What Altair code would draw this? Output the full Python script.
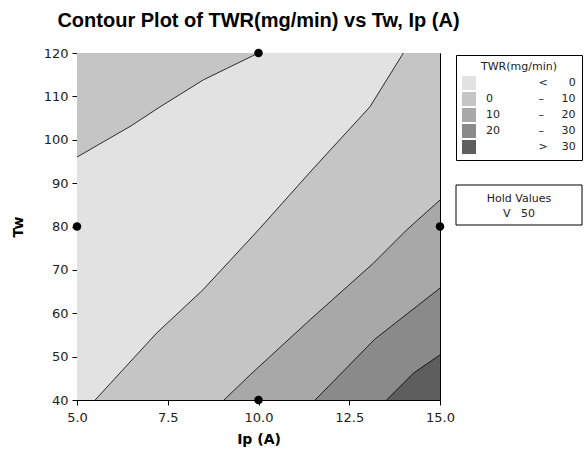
import altair as alt
import pandas as pd

# ---- data ----
bands = ["< 0", "0 – 10", "10 – 20", "20 – 30", "> 30"]
band_colors = ["#e2e2e2", "#c5c5c5", "#a8a8a8", "#8a8a8a", "#5e5e5e"]

ip_range = [5.0, 15.0]
tw_range = [40, 120]

# contour lines (Ip at given Tw)
ip_A = [5.0, 6.49, 7.29, 8.48, 10.0]          # level 0 (upper-left)
tw_A = [96, 103.2, 107.6, 113.8, 120]
ip_B = [5.5, 7.19, 8.47, 10.04, 11.47, 13.07, 13.99]   # level 0 (right)
tw_B = [40, 55.4, 65.4, 79.6, 93.0, 107.6, 120]
ip_C = [9.05, 9.77, 11.42, 13.16, 14.08, 15.0]  # level 10
tw_C = [40, 45.8, 58.5, 71.5, 79.2, 86.1]
ip_D = [11.56, 13.2, 15.0]                      # level 20
tw_D = [40, 54.0, 65.8]
ip_E = [13.53, 14.27, 15.0]                     # level 30
tw_E = [40, 46.2, 50.4]

design_ip = [5.0, 10.0, 10.0, 15.0]
design_tw = [80, 120, 40, 80]

hold_vars = ["V"]
hold_vals = [50]

# ---- build tables ----
def contour_df(name, ips, tws, band, edge):
    return pd.DataFrame({"contour": name, "Ip": ips, "Tw": tws, "band": band, "edge": edge})

dA = contour_df("A", ip_A, tw_A, bands[1], ip_range[0])
dB = contour_df("B", ip_B, tw_B, bands[0], ip_range[0])
dC = contour_df("C", ip_C, tw_C, bands[2], ip_range[1])
dD = contour_df("D", ip_D, tw_D, bands[3], ip_range[1])
dE = contour_df("E", ip_E, tw_E, bands[4], ip_range[1])
lines_df = pd.concat([dA, dB, dC, dD, dE], ignore_index=True)

bg_df = pd.DataFrame({"x": [ip_range[0]], "x2": [ip_range[1]], "y": [tw_range[0]], "y2": [tw_range[1]], "band": [bands[1]]})
pts_df = pd.DataFrame({"Ip": design_ip, "Tw": design_tw})
hold_df = pd.DataFrame({"txt": [f"{v}\u00a0\u00a0\u00a0{val}" for v, val in zip(hold_vars, hold_vals)]})

FONT = "DejaVu Sans"

xscale = alt.Scale(domain=ip_range, nice=False, zero=False)
yscale = alt.Scale(domain=tw_range, nice=False, zero=False)
cscale = alt.Scale(domain=bands, range=band_colors)

nb = "\u00a0"
zw = "\u200b"
disp = [
    zw + nb * 15 + "<" + nb * 6 + "0",
    zw + "0" + nb * 13 + "–" + nb * 5 + "10",
    zw + "10" + nb * 11 + "–" + nb * 5 + "20",
    zw + "20" + nb * 11 + "–" + nb * 5 + "30",
    zw + nb * 15 + ">" + nb * 4 + "30",
]
label_expr = " : ".join([f"datum.label == '{b}' ? '{d}'" for b, d in zip(bands, disp)]) + " : datum.label"

legend = alt.Legend(
    title="TWR(mg/min)", orient="none", legendX=379, legendY=2,
    labelExpr=label_expr, symbolType="square", symbolSize=195,
    symbolStrokeWidth=0, strokeColor="black", padding=6,
    titleFont=FONT, titleFontSize=11, titleFontWeight="normal", titleColor="#222222",
    labelFont=FONT, labelFontSize=11, labelColor="#222222", titleAnchor="middle",
    rowPadding=2, labelOffset=10, titlePadding=4, labelLimit=200,
)

xaxis = alt.Axis(values=[5.0, 7.5, 10.0, 12.5, 15.0], format=".1f", labelFlush=False)
yaxis = alt.Axis(values=[40, 50, 60, 70, 80, 90, 100, 110, 120], labelFlush=False)
xenc = alt.X("Ip:Q", scale=xscale, title="Ip (A)", axis=xaxis, stack=None)
yenc = alt.Y("Tw:Q", scale=yscale, title="Tw", axis=yaxis, stack=None)
fenc = alt.Fill("band:N", scale=cscale, legend=legend)

bg = alt.Chart(bg_df).mark_rect().encode(
    x=alt.X("x:Q", scale=xscale, title="Ip (A)", axis=xaxis),
    x2="x2:Q",
    y=alt.Y("y:Q", scale=yscale, title="Tw", axis=yaxis),
    y2="y2:Q",
    fill=fenc,
)

def band_area(df):
    return alt.Chart(df).mark_area(orient="horizontal", opacity=1).encode(
        y=yenc, x=xenc, x2="edge:Q", fill=fenc)

areas = [band_area(d) for d in [dB, dA, dC, dD, dE]]

lines = alt.Chart(lines_df).mark_line(color="black", strokeWidth=0.8).encode(
    x=xenc, y=yenc, detail="contour:N", order=alt.Order("Tw:Q"))

pts = alt.Chart(pts_df).mark_point(filled=True, color="black", size=72, opacity=1).encode(
    x=xenc, y=yenc)

hold_box = alt.Chart(hold_df).mark_rect(fill="white", stroke="black", strokeWidth=1).encode(
    x=alt.value(379), x2=alt.value(505), y=alt.value(132), y2=alt.value(172))
hold_title = alt.Chart(hold_df).mark_text(font=FONT, fontSize=11, align="center", color="#222222").encode(
    x=alt.value(442), y=alt.value(146), text=alt.value("Hold Values"))
hold_txt = alt.Chart(hold_df).mark_text(font=FONT, fontSize=11, align="center", color="#222222").encode(
    x=alt.value(442), y=alt.value(161), text="txt:N")

chart = alt.layer(bg, *areas, lines, pts, hold_box, hold_title, hold_txt).properties(
    width=363, height=347,
    title=alt.TitleParams("Contour Plot of TWR(mg/min) vs Tw, Ip (A)", font="Liberation Sans",
                          fontSize=20, fontWeight="bold", anchor="middle", offset=16, color="black"),
    autosize=alt.AutoSizeParams(type="none"),
    padding={"left": 77, "top": 53, "right": 144, "bottom": 52},
).configure_view(stroke="black", strokeWidth=1).configure_axis(
    grid=False, domainColor="black", tickColor="black", tickSize=5,
    labelFont=FONT, labelFontSize=13, labelColor="#222222", labelPadding=4,
    titleFont=FONT, titleFontSize=14, titleFontWeight="bold", titleColor="black",
).configure_axisY(titlePadding=18).configure_axisX(titlePadding=8, labelPadding=6)

chart.save("out.html", embed_options={"renderer": "svg", "actions": False})
